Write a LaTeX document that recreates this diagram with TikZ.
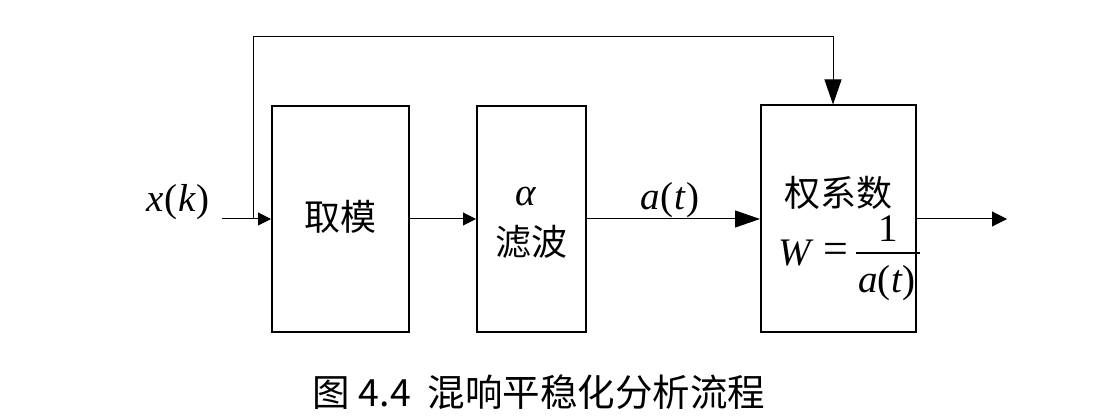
\documentclass[tikz,border=0pt]{standalone}
\usepackage{fontspec}
\setmainfont{Liberation Serif}
\newfontfamily\cjk{Noto Sans CJK SC}
\usetikzlibrary{arrows.meta}
\begin{document}
\begin{tikzpicture}[x=1pt,y=-1pt,
  blk/.style={draw,line width=2pt,inner sep=0pt},
  cjktxt/.style={font=\cjk\fontsize{36}{40}\selectfont,inner sep=0pt},
  mtxt/.style={font=\fontsize{39}{44}\selectfont,inner sep=0pt},
  conn/.style={line width=1pt},
  tipS/.style={-{Triangle[length=13pt,width=13pt]}},
  tipL/.style={-{Triangle[length=25pt,width=17pt]}}]
\useasboundingbox (0,0) rectangle (1113,419);
% blocks
\node[blk,minimum width=137pt,minimum height=226pt] (b1) at (340.5,219) {};
\node[blk,minimum width=109pt,minimum height=226pt] (b2) at (531.5,219) {};
\node[blk,minimum width=155pt,minimum height=227pt] (b3) at (838.5,219) {};
% texts
\node[cjktxt] (t1) at (340,217) {取模};
\node[mtxt] (alpha) at (526,197) {\itshape α};
\node[cjktxt] (t2) at (531,242) {滤波};
\node[cjktxt] (t3) at (838,193) {权系数};
\node[mtxt] (W) at (795,253) {\itshape W};
\node[mtxt,font=\fontsize{44}{48}\selectfont] (eq) at (836,253) {=};
\node[mtxt] (one) at (888,229) {1};
\node[mtxt] (den) at (887,283) {{\itshape a}(\kern1pt{\itshape t})};
\coordinate (barL) at (856,253);
\coordinate (barR) at (920,253);
\draw[line width=1.3pt] (barL) -- (barR);
\node[mtxt] (xk) at (178,202) {{\itshape x}(\kern1pt{\itshape k}\kern1pt)};
\node[mtxt] (at) at (670,200) {{\itshape a}(\kern1pt{\itshape t}\kern1pt)};
% connectors
\coordinate (in) at (222,219);
\coordinate (split) at (253,219);
\coordinate (fbL) at (253,37);
\coordinate (fbR) at (833,37);
\coordinate (out) at (1007,219);
\draw[conn,tipS] (in) -- (b1.west);
\draw[conn,tipL] (split) -- (fbL) -- (fbR) -- (fbR |- b3.north);
\draw[conn,tipS] (b1.east) -- (b2.west);
\draw[conn,tipL] (b2.east) -- (b3.west);
\draw[conn,-{Triangle[length=15pt,width=15pt]}] (b3.east) -- (out);
% caption
\node[cjktxt,font=\cjk\fontsize{37.5}{42}\selectfont] (cap) at (539,392) {图 4.4\ \ 混响平稳化分析流程};
\end{tikzpicture}
\end{document}
